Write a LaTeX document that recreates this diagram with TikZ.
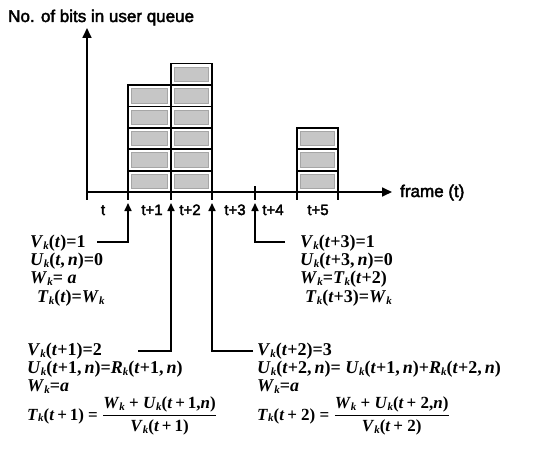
\documentclass[tikz,border=0pt]{standalone}
\usepackage{fontspec}
\setmainfont{Liberation Serif}
\setsansfont{Liberation Sans}[FakeBold=2.5]
\usetikzlibrary{arrows.meta}
\newcommand\I[1]{\textit{#1}}
\newcommand\K{\raisebox{-0.25ex}{\fontsize{11}{11}\selectfont\textit{k}}}
\begin{document}
\begin{tikzpicture}[x=1pt,y=-1pt,
  axis/.style={line width=1.7pt,-{Triangle[length=10pt,width=9pt]}},
  arr/.style={line width=1.6pt,-{Triangle[length=8pt,width=7pt]}},
  tick/.style={line width=1.4pt},
  lbl/.style={font=\sffamily\fontsize{15}{15}\selectfont,anchor=base},
  eq/.style={font=\bfseries\fontsize{18}{18}\selectfont,anchor=base west,inner sep=0pt},
  eqf/.style={font=\bfseries\fontsize{17}{17}\selectfont,anchor=base west,inner sep=0pt},
  cellout/.style={draw=black,line width=1.8pt,fill=white},
  cellin/.style={draw=gray!70,line width=0.5pt,fill=gray!45}]
\useasboundingbox (0,0) rectangle (533,452);
% title
\node[font=\sffamily\fontsize{17}{17}\selectfont,anchor=base west,inner sep=0pt] (title) at (8,22) {No. of bits in user queue};
% axes
\coordinate (o) at (87,192);
\coordinate (ytip) at (87,28);
\coordinate (xtip) at (392,192);
\draw[axis] (o) -- (ytip);
\draw[axis] (o) -- (xtip);
\node[font=\sffamily\fontsize{17}{17}\selectfont,anchor=base west,inner sep=0pt] (xl) at (400,197) {frame (t)};
% ticks
\foreach \x in {87,128,171,212,297,338} \draw[tick] (\x,192) -- (\x,200);
\draw[tick] (255,186) -- (255,200);
% cells
\foreach \col/\n in {128/5,171/6,297/3} {
  \pgfmathsetmacro{\xr}{\col+(\col==128?43:41)}
  \foreach \i in {1,...,\n} {
    \pgfmathsetmacro{\yb}{192-(\i-1)*21.4}
    \pgfmathsetmacro{\yt}{192-\i*21.4}
    \draw[cellout] (\col,\yb) rectangle (\xr,\yt);
    \draw[cellin] (\col+3.5,\yb-3.5) rectangle (\xr-3.5,\yt+3.5);
  }
}
% axis labels
\node[lbl] (l0) at (103,215) {t};
\node[lbl] (l1) at (152,215) {t+1};
\node[lbl] (l2) at (190,215) {t+2};
\node[lbl] (l3) at (235,215) {t+3};
\node[lbl] (l4) at (273,215) {t+4};
\node[lbl] (l5) at (318,215) {t+5};
% left block 1
\node[eq] (a1) at (30,247) {\I{V}\K(\I{t})=1};
\node[eq] (a2) at (30,265) {\I{U}\K(\I{t},\,\I{n})=0};
\node[eq] (a3) at (30,283) {\I{W}\K= \I{a}};
\node[eq] (a4) at (37,302) {\I{T}\K(\I{t})=\I{W}\K};
% right block 1
\node[eq] (b1) at (300,247) {\I{V}\K(\I{t}+3)=1};
\node[eq] (b2) at (300,265) {\I{U}\K(\I{t}+3,\,\I{n})=0};
\node[eq] (b3) at (300,283) {\I{W}\K=\I{T}\K(\I{t}+2)};
\node[eq] (b4) at (305,302) {\I{T}\K(\I{t}+3)=\I{W}\K};
% left block 2
\node[eq] (c1) at (27,355) {\I{V}\K(\I{t}+1)=2};
\node[eq] (c2) at (27,373) {\I{U}\K(\I{t}+1,\,\I{n})=\I{R}\K(\I{t}+1,\,\I{n})};
\node[eq] (c3) at (27,391) {\I{W}\K=\I{a}};
\node[eqf] (c4) at (27,420) {\I{T}\K(\I{t}\,+\,1) = $\displaystyle\frac{\mbox{\I{W}\K\ +\ \I{U}\K(\I{t}\,+\,1,\I{n})}}{\mbox{\I{V}\K(\I{t}\,+\,1)}}$};
% right block 2
\node[eq] (d1) at (257,355) {\I{V}\K(\I{t}+2)=3};
\node[eq] (d2) at (257,373) {\I{U}\K(\I{t}+2,\,\I{n})= \I{U}\K(\I{t}+1,\,\I{n})+\I{R}\K(\I{t}+2,\,\I{n})};
\node[eq] (d3) at (257,391) {\I{W}\K=\I{a}};
\node[eqf] (d4) at (257,420) {\I{T}\K(\I{t}\,+\ 2) = $\displaystyle\frac{\mbox{\I{W}\K\ +\ \I{U}\K(\I{t}\,+\ 2,\I{n})}}{\mbox{\I{V}\K(\I{t}\,+\ 2)}}$};
% connectors
\coordinate (s1) at (97,242);  \coordinate (k1) at (128,242); \coordinate (t1) at (128,203);
\coordinate (s2) at (138,351); \coordinate (k2) at (171,351); \coordinate (t2) at (171,203);
\coordinate (s3) at (253,351); \coordinate (k3) at (212,351); \coordinate (t3) at (212,203);
\coordinate (s4) at (285,242); \coordinate (k4) at (255,242); \coordinate (t4) at (255,203);
\draw[arr] (s1) -- (k1) -- (t1);
\draw[arr] (s2) -- (k2) -- (t2);
\draw[arr] (s3) -- (k3) -- (t3);
\draw[arr] (s4) -- (k4) -- (t4);
\end{tikzpicture}
\end{document}
